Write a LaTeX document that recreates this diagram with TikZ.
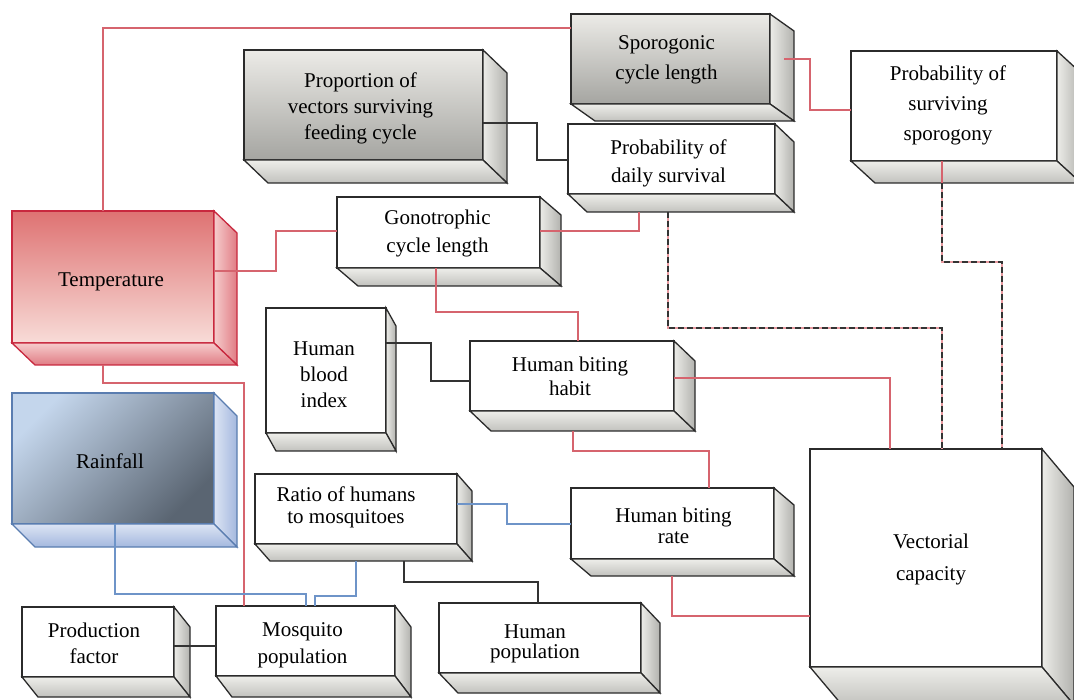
\documentclass[tikz,border=0pt]{standalone}
\usepackage{fontspec}
\setmainfont{Liberation Serif}
\usetikzlibrary{calc}
\definecolor{edgec}{HTML}{2B2B2B}
\definecolor{gtop}{HTML}{ECEBE7}
\definecolor{gbot}{HTML}{A5A5A1}
\definecolor{sl}{HTML}{ECECE8}
\definecolor{sd}{HTML}{B2B2AE}
\definecolor{bl}{HTML}{EEEEEA}
\definecolor{bd}{HTML}{C2C2BE}
\definecolor{tedge}{HTML}{C8283E}
\definecolor{ttop}{HTML}{DE7272}
\definecolor{tbot}{HTML}{F8DCD8}
\definecolor{tsl}{HTML}{F6CCCC}
\definecolor{tsd}{HTML}{E07C84}
\definecolor{redge}{HTML}{5A7DB0}
\definecolor{rtop}{HTML}{C4D6EC}
\definecolor{rbot}{HTML}{5A6572}
\definecolor{rsl}{HTML}{DCE4F4}
\definecolor{rsd}{HTML}{A4B8DE}
\definecolor{linered}{HTML}{D6646E}
\definecolor{lineblue}{HTML}{6E94C8}
\definecolor{lineblk}{HTML}{333333}
\definecolor{dashpink}{HTML}{E89AA0}
\newcommand\cube[9][]{%
  \node[#3front, minimum width={#6-#4}, minimum height={#7-#5}] (#2) at ({(#4+#6)/2},{(#5+#7)/2}) {};
  \path[#3side] (#2.north east) -- ++(#8) -- ($(#2.south east)+(#8)$) -- (#2.south east) -- cycle;
  \path[#3bot] (#2.south west) -- (#2.south east) -- ++(#8) -- ($(#2.south west)+(#8)$) -- cycle;
  \node[boxtext, #1] (#2t) at (#2.center) {#9};
}
\begin{document}
\begin{tikzpicture}[x=1pt,y=-1pt,
  lsp/.style={font=\fontsize{21}{#1}\selectfont},
  lsp/.default=27,
  edge/.style={draw=edgec, line width=1.3pt, line join=miter},
  boxtext/.style={inner sep=0pt, outer sep=0pt, align=center, text=black, lsp},
  basefront/.style={inner sep=0pt, outer sep=0pt},
  wfront/.style={basefront, edge, fill=white},
  wside/.style={edge, left color=sl, right color=sd},
  wbot/.style={edge, top color=bl, bottom color=bd},
  gfront/.style={basefront, edge, top color=gtop, bottom color=gbot},
  gside/.style={wside},
  gbot/.style={wbot},
  tfront/.style={basefront, draw=tedge, line width=1.3pt, top color=ttop, bottom color=tbot},
  tside/.style={draw=tedge, line width=1.3pt, left color=tsl, right color=tsd},
  tbot/.style={draw=tedge, line width=1.3pt, top color=tsl, bottom color=tsd},
  rfront/.style={basefront, draw=redge, line width=1.3pt, top color=rtop, bottom color=rbot, shading angle=45},
  rside/.style={draw=redge, line width=1.3pt, left color=rsl, right color=rsd},
  rbot/.style={draw=redge, line width=1.3pt, top color=rsl, bottom color=rsd},
  redc/.style={draw=linered, line width=1.2pt},
  bluec/.style={draw=lineblue, line width=1.2pt},
  blkc/.style={draw=lineblk, line width=1.2pt},
  dashc/.style={draw=dashpink, line width=1.6pt, postaction={draw=lineblk, line width=1.4pt, dash pattern=on 6pt off 3pt}},
]
\useasboundingbox (0,0) rectangle (1074,700);
\clip (0,0) rectangle (1074,700);
\fill[white] (0,0) rectangle (1074,700);

% ---- boxes ----
\cube[lsp=30, xshift=-4pt, yshift=-1pt]{spo}{g}{571}{14}{770}{104}{24,17}{Sporogonic\\cycle length}
\cube[lsp=26, xshift=-3pt, yshift=-3pt]{prop}{g}{244}{50}{483}{160}{24,23}{Proportion of\\vectors surviving\\feeding cycle}
\cube[lsp=28, xshift=-3pt, yshift=-4pt]{dai}{w}{568}{124}{775}{194}{19,18}{Probability of\\daily survival}
\cube[lsp=30, xshift=-6pt, yshift=1pt]{sur}{w}{851}{51}{1057}{161}{24,22}{Probability of\\surviving\\sporogony}
\cube[lsp=28, xshift=-1pt, yshift=-1pt]{gon}{w}{337}{197}{540}{268}{21,18}{Gonotrophic\\cycle length}
\cube[xshift=-2pt, yshift=-5pt]{temp}{t}{12}{211}{214}{343}{23,22}{Temperature}
\cube[xshift=-3pt, yshift=-3pt]{rain}{r}{12}{393}{214}{524}{23,23}{Rainfall}
\cube[lsp=26, xshift=-2pt, yshift=-4pt]{hbi}{w}{266}{308}{386}{433}{10,18}{Human\\blood\\index}
\cube[lsp=24, xshift=-2pt]{hab}{w}{470}{341}{674}{411}{21,20}{Human biting\\habit}
\cube[lsp=22, xshift=-10pt, yshift=2pt]{rat}{w}{255}{474}{457}{544}{15,17}{Ratio of humans\\to mosquitoes}
\cube[lsp=21, xshift=1pt, yshift=-2pt]{rate}{w}{571}{488}{774}{559}{20,17}{Human biting\\rate}
\cube[lsp=32, xshift=5pt, yshift=-1pt]{vec}{w}{810}{449}{1042}{667}{32,38}{Vectorial\\capacity}
\cube[lsp=26, xshift=-4pt, yshift=-1pt]{pro}{w}{22}{607}{174}{677}{16,20}{Production\\factor}
\cube[lsp=27, xshift=-3pt, yshift=-4pt]{mos}{w}{216}{606}{395}{676}{16,21}{Mosquito\\population}
\cube[lsp=20, xshift=-5pt, yshift=-6pt]{hpop}{w}{439}{603}{641}{673}{19,20}{Human\\population}

% ---- connectors starting at the outer edge of an extrusion ----
\draw[redc] ($(103,0 |- temp.south)+(0,22)$) |- (244,383) -- (244,0 |- mos.north);
\draw[redc] ($(573,0 |- hab.south)+(0,20)$) |- (709,451) -- (709,0 |- rate.north);
\draw[redc] ($(672,0 |- rate.south)+(0,17)$) |- (vec.west |- 0,616);
\draw[dashc] ($(668,0 |- dai.south)+(0,18)$) |- (942,328) -- (942,0 |- vec.north);
\draw[blkc] ($(404,0 |- rat.south)+(0,17)$) |- (538,582) -- (538,0 |- hpop.north);
\draw[bluec] ($(356,0 |- rat.south)+(0,17)$) |- (315,596) -- (315,0 |- mos.north);

% ---- connectors drawn over the faces ----
\draw[redc] (103,0 |- temp.north) |- (spo.west |- 0,28);
\draw[redc] (temp.east |- 0,271) -| (276,231) -- (gon.west |- 0,231);
\draw[redc] ($(spo.east |- 0,59)+(14,0)$) -| (810,110) -- (sur.west |- 0,110);
\draw[redc] (gon.east |- 0,231) -| ($(639,0 |- dai.south)+(0,18)$);
\draw[redc] (436,0 |- gon.south) |- (578,312) -- (578,0 |- hab.north);
\draw[redc] (hab.east |- 0,378) -| (890,0 |- vec.north);
\draw[redc] (942,0 |- sur.south) -- ($(942,0 |- sur.south)+(0,22)$);
\draw[dashc] ($(942,0 |- sur.south)+(0,22)$) |- (1002,262) -- (1002,0 |- vec.north);
\draw[blkc] (prop.east |- 0,123) -| (537,160) -- (dai.west |- 0,160);
\draw[blkc] (hbi.east |- 0,343) -| (431,381) -- (hab.west |- 0,381);
\draw[blkc] (pro.east |- 0,646) -- (mos.west |- 0,646);
\draw[bluec] (115,0 |- rain.south) |- (306,594) -- (306,0 |- mos.north);
\draw[bluec] (rat.east |- 0,504) -| (507,524) -- (rate.west |- 0,524);
\end{tikzpicture}
\end{document}
